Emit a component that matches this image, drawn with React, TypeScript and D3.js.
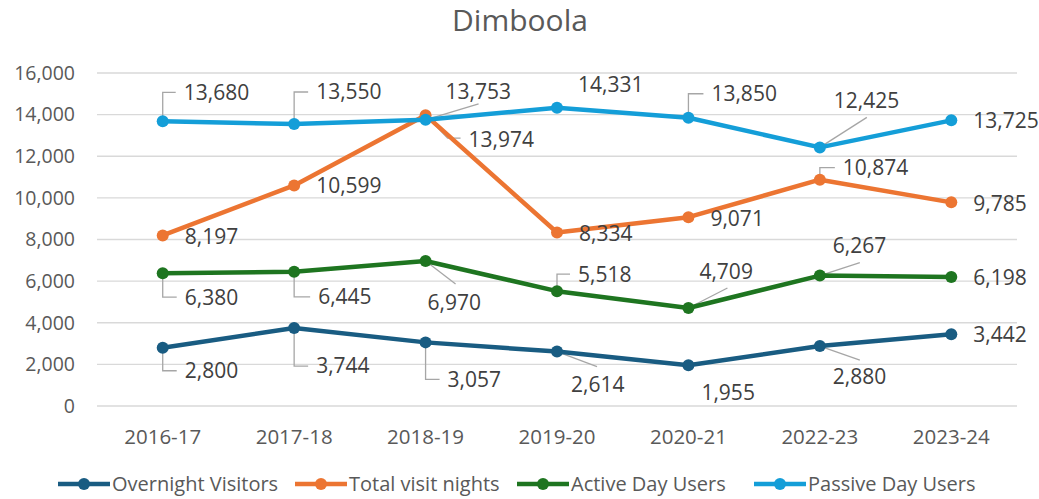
import * as d3 from "d3";
import { useEffect } from "react";

// chart data
const years = ["2016-17", "2017-18", "2018-19", "2019-20", "2020-21", "2022-23", "2023-24"];
const overnightVisitors = [2800, 3744, 3057, 2614, 1955, 2880, 3442];
const totalVisitNights = [8197, 10599, 13974, 8334, 9071, 10874, 9785];
const activeDayUsers = [6380, 6445, 6970, 5518, 4709, 6267, 6198];
const passiveDayUsers = [13680, 13550, 13753, 14331, 13850, 12425, 13725];
const yTicks = [0, 2000, 4000, 6000, 8000, 10000, 12000, 14000, 16000];

// label placement for each point: text offset from the point + leader type
type Place = { dx: number; dy: number; leader: "none" | "elbow" | "diag"; ex?: number; ey?: number };
const overnightPlace: Place[] = [
  { dx: 22, dy: 23, leader: "elbow" },
  { dx: 22, dy: 38, leader: "elbow" },
  { dx: 22, dy: 37, leader: "elbow" },
  { dx: 14, dy: 33, leader: "diag", ex: 40, ey: 15 },
  { dx: 13, dy: 27, leader: "none" },
  { dx: 13, dy: 31, leader: "diag", ex: 40, ey: 14 },
  { dx: 22, dy: 0, leader: "none" },
];
const nightsPlace: Place[] = [
  { dx: 22, dy: 1, leader: "none" },
  { dx: 22, dy: 0, leader: "none" },
  { dx: 43, dy: 24, leader: "diag", ex: 22, ey: 23 },
  { dx: 22, dy: 1, leader: "none" },
  { dx: 22, dy: 1, leader: "none" },
  { dx: 23, dy: -12, leader: "elbow" },
  { dx: 22, dy: 1, leader: "none" },
];
const activePlace: Place[] = [
  { dx: 22, dy: 24, leader: "elbow" },
  { dx: 24, dy: 25, leader: "elbow" },
  { dx: 2, dy: 42, leader: "diag", ex: 30, ey: 23 },
  { dx: 21, dy: -17, leader: "elbow" },
  { dx: 11, dy: -36, leader: "diag", ex: 39, ey: -20 },
  { dx: 13, dy: -30, leader: "diag", ex: 40, ey: -13 },
  { dx: 22, dy: 1, leader: "none" },
];
const passivePlace: Place[] = [
  { dx: 21, dy: -29, leader: "elbow" },
  { dx: 22, dy: -32, leader: "elbow" },
  { dx: 20, dy: -28, leader: "diag", ex: 53, ey: -16 },
  { dx: 21, dy: -23, leader: "none" },
  { dx: 23, dy: -24, leader: "elbow" },
  { dx: 14, dy: -47, leader: "diag", ex: 47, ey: -30 },
  { dx: 22, dy: 0, leader: "none" },
];

const series = [
  { name: "Overnight Visitors", values: overnightVisitors, color: "#195C82", place: overnightPlace },
  { name: "Total visit nights", values: totalVisitNights, color: "#EC7532", place: nightsPlace },
  { name: "Active Day Users", values: activeDayUsers, color: "#1E7520", place: activePlace },
  { name: "Passive Day Users", values: passiveDayUsers, color: "#149ED8", place: passivePlace },
];

const WIDTH = 1039;
const HEIGHT = 499;
const margin = { top: 73, right: 22, bottom: 93, left: 97 };
const FONT = "'Open Sans', 'Noto Sans', sans-serif";

export default function App() {
  useEffect(() => {
    document.body.style.margin = "0";
  }, []);

  const x = d3
    .scaleBand()
    .domain(years)
    .range([margin.left, WIDTH - margin.right]);
  const y = d3
    .scaleLinear()
    .domain([0, 16000])
    .range([HEIGHT - margin.bottom, margin.top]);
  const cx = (d: string) => (x(d) ?? 0) + x.bandwidth() / 2;
  const fmt = d3.format(",");

  const line = d3
    .line<number>()
    .x((_, i) => cx(years[i]))
    .y((d) => y(d));

  // legend item positions (text start)
  const legendX = [112, 349, 571, 808];

  return (
    <svg width={WIDTH} height={HEIGHT} style={{ display: "block", background: "#fff" }} fontFamily={FONT}>
      <text x={520} y={31} textAnchor="middle" fontSize={30} fill="#595959">
        Dimboola
      </text>

      {/* gridlines and y ticks */}
      {yTicks.map((t) => (
        <g key={t}>
          <line x1={margin.left} x2={WIDTH - margin.right} y1={y(t)} y2={y(t)} stroke="#D9D9D9" strokeWidth={1.3} />
          <text x={75} y={y(t)} dy="0.35em" textAnchor="end" fontSize={19.5} fill="#595959">
            {fmt(t)}
          </text>
        </g>
      ))}

      {/* x labels */}
      {years.map((yr) => (
        <text key={yr} x={cx(yr)} y={437} dy="0.35em" textAnchor="middle" fontSize={20.5} fill="#595959">
          {yr}
        </text>
      ))}

      {/* leader lines */}
      {series.map((s) =>
        s.values.map((v, i) => {
          const p = s.place[i];
          const px = cx(years[i]);
          const py = y(v);
          if (p.leader === "elbow") {
            const ly = py + p.dy;
            return (
              <polyline
                key={s.name + i}
                points={`${px},${py} ${px},${ly} ${px + p.dx - 8},${ly}`}
                fill="none"
                stroke="#A6A6A6"
                strokeWidth={1.3}
              />
            );
          }
          if (p.leader === "diag") {
            const pts = [`${px},${py}`, `${px + (p.ex ?? 0)},${py + (p.ey ?? 0)}`];
            if (p.ex !== undefined && p.ex < p.dx - 8) pts.push(`${px + p.dx - 8},${py + (p.ey ?? 0)}`);
            return (
              <polyline key={s.name + i} points={pts.join(" ")} fill="none" stroke="#A6A6A6" strokeWidth={1.3} />
            );
          }
          return null;
        })
      )}

      {/* lines + markers */}
      {series.map((s) => (
        <g key={s.name}>
          <path d={line(s.values) ?? ""} fill="none" stroke={s.color} strokeWidth={4.5} strokeLinejoin="round" />
          {s.values.map((v, i) => (
            <circle key={i} cx={cx(years[i])} cy={y(v)} r={6} fill={s.color} />
          ))}
        </g>
      ))}

      {/* data labels */}
      {series.map((s) =>
        s.values.map((v, i) => {
          const p = s.place[i];
          return (
            <text
              key={s.name + "t" + i}
              x={cx(years[i]) + p.dx}
              y={y(v) + p.dy}
              dy="0.35em"
              fontSize={21}
              fill="#404040"
            >
              {fmt(v)}
            </text>
          );
        })
      )}

      {/* legend */}
      {series.map((s, i) => (
        <g key={s.name + "lg"}>
          <line x1={legendX[i] - 54} x2={legendX[i] - 2} y1={484} y2={484} stroke={s.color} strokeWidth={4.5} />
          <circle cx={legendX[i] - 28} cy={484} r={6} fill={s.color} />
          <text x={legendX[i]} y={484} dy="0.35em" fontSize={20} fill="#595959">
            {s.name}
          </text>
        </g>
      ))}
    </svg>
  );
}
